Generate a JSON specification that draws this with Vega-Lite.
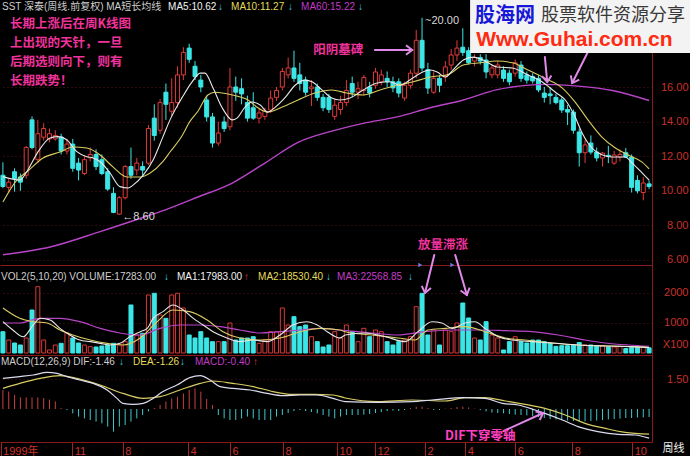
{
  "$schema": "https://vega.github.io/schema/vega-lite/v6.json",
  "background": "#000000",
  "padding": 0,
  "spacing": 0,
  "bounds": "flush",
  "config": {"view": {"stroke": null}, "font": "Liberation Sans"},
  "datasets": {
    "k": [
      {"i":0,"o":10.9,"h":11.65,"l":10.15,"c":10.25,"v":710,"m":0.95},
      {"i":1,"o":10.2,"h":10.7,"l":9.9,"c":10.5,"v":433,"m":0.87},
      {"i":2,"o":11.1,"h":11.3,"l":9.95,"c":10.7,"v":333,"m":0.7},
      {"i":3,"o":10.8,"h":11.0,"l":10.0,"c":10.5,"v":267,"m":0.58},
      {"i":4,"o":10.9,"h":12.6,"l":10.7,"c":12.5,"v":500,"m":0.58},
      {"i":5,"o":14.1,"h":14.3,"l":12.4,"c":12.5,"v":1433,"m":0.58},
      {"i":6,"o":11.8,"h":14.1,"l":11.6,"c":13.3,"v":2210,"m":0.58},
      {"i":7,"o":13.1,"h":13.9,"l":12.9,"c":13.6,"v":433,"m":0.55},
      {"i":8,"o":13.0,"h":13.6,"l":12.8,"c":13.3,"v":100,"m":0.47},
      {"i":9,"o":13.0,"h":13.5,"l":12.9,"c":13.2,"v":267,"m":0.38},
      {"i":10,"o":13.1,"h":13.3,"l":12.1,"c":12.3,"v":322,"m":0.05},
      {"i":11,"o":12.3,"h":13.0,"l":12.1,"c":12.7,"v":667,"m":-0.05},
      {"i":12,"o":12.7,"h":13.0,"l":11.1,"c":11.3,"v":500,"m":-0.22},
      {"i":13,"o":11.6,"h":11.9,"l":10.6,"c":11.2,"v":333,"m":-0.38},
      {"i":14,"o":11.0,"h":12.0,"l":10.9,"c":11.8,"v":267,"m":-0.47},
      {"i":15,"o":11.9,"h":12.5,"l":11.7,"c":12.1,"v":211,"m":-0.55},
      {"i":16,"o":12.1,"h":12.4,"l":11.2,"c":11.4,"v":200,"m":-0.63},
      {"i":17,"o":11.8,"h":12.1,"l":10.9,"c":11.0,"v":233,"m":-0.72},
      {"i":18,"o":11.1,"h":11.3,"l":10.0,"c":10.1,"v":267,"m":-0.88},
      {"i":19,"o":9.85,"h":10.2,"l":8.7,"c":8.75,"v":322,"m":-1.13},
      {"i":20,"o":8.65,"h":9.7,"l":8.6,"c":9.6,"v":267,"m":-0.88},
      {"i":21,"o":9.6,"h":11.5,"l":9.5,"c":11.4,"v":378,"m":-0.8},
      {"i":22,"o":11.4,"h":12.5,"l":10.7,"c":10.9,"v":1600,"m":-0.63},
      {"i":23,"o":11.2,"h":11.9,"l":10.9,"c":11.6,"v":600,"m":-0.47},
      {"i":24,"o":11.4,"h":11.7,"l":10.8,"c":11.2,"v":656,"m":-0.3},
      {"i":25,"o":11.6,"h":13.8,"l":11.5,"c":13.6,"v":1933,"m":-0.12},
      {"i":26,"o":14.2,"h":15.0,"l":12.9,"c":13.2,"v":1990,"m":0.05},
      {"i":27,"o":13.5,"h":15.3,"l":13.3,"c":15.1,"v":1267,"m":0.2},
      {"i":28,"o":15.7,"h":16.2,"l":14.1,"c":15.0,"v":1156,"m":0.37},
      {"i":29,"o":14.6,"h":16.5,"l":14.3,"c":15.1,"v":1933,"m":0.53},
      {"i":30,"o":15.1,"h":17.2,"l":14.8,"c":16.7,"v":1990,"m":0.62},
      {"i":31,"o":16.7,"h":18.3,"l":16.4,"c":18.0,"v":1500,"m":0.78},
      {"i":32,"o":18.25,"h":18.5,"l":17.4,"c":17.6,"v":600,"m":0.95},
      {"i":33,"o":17.2,"h":17.5,"l":16.4,"c":16.6,"v":500,"m":1.03},
      {"i":34,"o":16.4,"h":16.7,"l":15.7,"c":16.0,"v":711,"m":0.87},
      {"i":35,"o":15.25,"h":15.5,"l":14.0,"c":14.27,"v":500,"m":0.5},
      {"i":36,"o":14.27,"h":14.5,"l":12.5,"c":12.76,"v":378,"m":0.2},
      {"i":37,"o":12.76,"h":14.0,"l":12.6,"c":13.34,"v":378,"m":-0.3},
      {"i":38,"o":13.98,"h":14.3,"l":13.4,"c":13.6,"v":378,"m":-0.47},
      {"i":39,"o":13.7,"h":17.1,"l":13.5,"c":16.0,"v":1000,"m":-0.55},
      {"i":40,"o":16.0,"h":16.6,"l":15.2,"c":15.7,"v":433,"m":-0.55},
      {"i":41,"o":15.9,"h":16.5,"l":15.0,"c":15.6,"v":500,"m":-0.47},
      {"i":42,"o":15.1,"h":15.5,"l":14.0,"c":14.2,"v":500,"m":-0.38},
      {"i":43,"o":14.8,"h":15.7,"l":14.1,"c":14.2,"v":544,"m":-0.47},
      {"i":44,"o":14.2,"h":14.8,"l":13.9,"c":14.5,"v":322,"m":-0.55},
      {"i":45,"o":14.3,"h":14.8,"l":14.1,"c":14.6,"v":433,"m":-0.55},
      {"i":46,"o":14.67,"h":15.8,"l":14.5,"c":15.36,"v":711,"m":-0.55},
      {"i":47,"o":15.4,"h":16.0,"l":15.2,"c":15.8,"v":711,"m":-0.38},
      {"i":48,"o":16.0,"h":17.1,"l":15.8,"c":16.9,"v":1500,"m":-0.3},
      {"i":49,"o":16.7,"h":17.7,"l":16.5,"c":17.1,"v":933,"m":-0.2},
      {"i":50,"o":17.1,"h":18.1,"l":16.3,"c":16.5,"v":1211,"m":-0.1},
      {"i":51,"o":16.7,"h":17.4,"l":15.8,"c":16.2,"v":878,"m":-0.05},
      {"i":52,"o":16.4,"h":16.6,"l":15.5,"c":15.7,"v":933,"m":-0.1},
      {"i":53,"o":15.9,"h":16.4,"l":14.9,"c":16.0,"v":544,"m":-0.15},
      {"i":54,"o":16.0,"h":16.2,"l":15.2,"c":15.4,"v":378,"m":-0.22},
      {"i":55,"o":15.4,"h":15.6,"l":14.6,"c":14.8,"v":200,"m":-0.3},
      {"i":56,"o":15.4,"h":15.6,"l":14.5,"c":14.7,"v":267,"m":-0.38},
      {"i":57,"o":14.3,"h":15.35,"l":14.1,"c":14.95,"v":711,"m":-0.47},
      {"i":58,"o":14.7,"h":15.5,"l":14.4,"c":15.1,"v":500,"m":-0.38},
      {"i":59,"o":15.1,"h":16.4,"l":14.9,"c":15.8,"v":933,"m":-0.3},
      {"i":60,"o":16.2,"h":16.6,"l":15.4,"c":15.7,"v":711,"m":-0.3},
      {"i":61,"o":15.7,"h":16.3,"l":15.3,"c":15.9,"v":378,"m":-0.3},
      {"i":62,"o":15.8,"h":16.7,"l":15.5,"c":16.55,"v":822,"m":-0.28},
      {"i":63,"o":16.0,"h":16.3,"l":15.4,"c":15.65,"v":544,"m":-0.25},
      {"i":64,"o":16.1,"h":17.1,"l":15.9,"c":16.87,"v":767,"m":-0.2},
      {"i":65,"o":16.3,"h":17.0,"l":16.1,"c":16.7,"v":711,"m":-0.15},
      {"i":66,"o":16.5,"h":16.9,"l":16.0,"c":16.3,"v":378,"m":-0.1},
      {"i":67,"o":16.3,"h":16.6,"l":15.7,"c":15.95,"v":267,"m":-0.08},
      {"i":68,"o":16.3,"h":16.5,"l":15.4,"c":15.65,"v":378,"m":-0.1},
      {"i":69,"o":15.36,"h":16.3,"l":15.2,"c":16.1,"v":433,"m":-0.05},
      {"i":70,"o":16.1,"h":17.0,"l":15.9,"c":16.8,"v":544,"m":0.05},
      {"i":71,"o":16.8,"h":19.3,"l":16.5,"c":18.7,"v":1544,"m":0.12},
      {"i":72,"o":18.7,"h":20.0,"l":16.9,"c":17.1,"v":1989,"m":0.12},
      {"i":73,"o":17.0,"h":17.4,"l":15.6,"c":15.94,"v":600,"m":0.05},
      {"i":74,"o":15.7,"h":16.9,"l":15.6,"c":16.5,"v":767,"m":-0.05},
      {"i":75,"o":16.5,"h":16.7,"l":15.7,"c":16.1,"v":267,"m":-0.05},
      {"i":76,"o":16.58,"h":17.5,"l":16.3,"c":17.16,"v":767,"m":0.02},
      {"i":77,"o":17.27,"h":18.2,"l":17.0,"c":17.85,"v":711,"m":0.05},
      {"i":78,"o":17.85,"h":18.7,"l":17.5,"c":18.25,"v":1000,"m":0.1},
      {"i":79,"o":18.3,"h":19.4,"l":17.8,"c":18.0,"v":1667,"m":0.12},
      {"i":80,"o":18.1,"h":18.3,"l":17.3,"c":17.4,"v":1167,"m":0.08},
      {"i":81,"o":17.5,"h":17.9,"l":17.2,"c":17.7,"v":500,"m":0.02},
      {"i":82,"o":17.7,"h":17.9,"l":17.3,"c":17.5,"v":433,"m":-0.05},
      {"i":83,"o":17.56,"h":17.9,"l":16.5,"c":16.87,"v":1044,"m":-0.12},
      {"i":84,"o":16.7,"h":17.3,"l":16.5,"c":17.1,"v":600,"m":-0.18},
      {"i":85,"o":16.7,"h":17.5,"l":16.5,"c":17.27,"v":500,"m":-0.2},
      {"i":86,"o":16.98,"h":17.2,"l":16.3,"c":16.5,"v":100,"m":-0.22},
      {"i":87,"o":16.8,"h":17.0,"l":16.1,"c":16.3,"v":378,"m":-0.25},
      {"i":88,"o":16.8,"h":17.6,"l":16.6,"c":17.4,"v":544,"m":-0.28},
      {"i":89,"o":17.27,"h":17.5,"l":16.3,"c":16.5,"v":378,"m":-0.3},
      {"i":90,"o":16.7,"h":16.9,"l":16.2,"c":16.4,"v":333,"m":-0.32},
      {"i":91,"o":16.6,"h":16.8,"l":16.2,"c":16.35,"v":433,"m":-0.36},
      {"i":92,"o":16.5,"h":16.7,"l":15.7,"c":15.83,"v":433,"m":-0.4},
      {"i":93,"o":15.65,"h":16.0,"l":15.1,"c":15.4,"v":378,"m":-0.45},
      {"i":94,"o":15.6,"h":16.0,"l":15.0,"c":15.5,"v":333,"m":-0.5},
      {"i":95,"o":15.4,"h":15.6,"l":15.0,"c":15.1,"v":222,"m":-0.52},
      {"i":96,"o":15.25,"h":15.4,"l":14.5,"c":14.67,"v":244,"m":-0.55},
      {"i":97,"o":14.7,"h":14.96,"l":13.8,"c":14.55,"v":244,"m":-0.58},
      {"i":98,"o":14.55,"h":14.7,"l":13.3,"c":13.5,"v":267,"m":-0.6},
      {"i":99,"o":13.4,"h":13.6,"l":11.4,"c":12.2,"v":350,"m":-0.62},
      {"i":100,"o":12.2,"h":12.94,"l":11.6,"c":12.65,"v":267,"m":-0.62},
      {"i":101,"o":12.76,"h":13.2,"l":12.1,"c":12.24,"v":267,"m":-0.6},
      {"i":102,"o":12.24,"h":12.5,"l":11.7,"c":11.9,"v":222,"m":-0.58},
      {"i":103,"o":11.9,"h":12.24,"l":11.4,"c":12.18,"v":244,"m":-0.55},
      {"i":104,"o":12.05,"h":12.6,"l":11.6,"c":12.0,"v":200,"m":-0.52},
      {"i":105,"o":11.6,"h":12.3,"l":11.5,"c":12.07,"v":200,"m":-0.5},
      {"i":106,"o":11.95,"h":12.4,"l":11.7,"c":12.1,"v":222,"m":-0.48},
      {"i":107,"o":12.2,"h":12.47,"l":11.9,"c":11.95,"v":150,"m":-0.45},
      {"i":108,"o":11.95,"h":12.1,"l":9.9,"c":10.2,"v":180,"m":-0.45},
      {"i":109,"o":10.6,"h":10.9,"l":9.85,"c":10.0,"v":200,"m":-0.43},
      {"i":110,"o":9.9,"h":10.8,"l":9.45,"c":10.45,"v":195,"m":-0.42},
      {"i":111,"o":10.4,"h":10.6,"l":10.1,"c":10.25,"v":172.83,"m":-0.4}
    ],
    "ma5": [{"i":0,"v":10.82},{"i":2.9,"v":10.62},{"i":4.1,"v":11.1},{"i":5.9,"v":12.18},{"i":8.1,"v":13.05},{"i":9.5,"v":13.13},{"i":11,"v":12.94},{"i":12.7,"v":12.26},{"i":14.4,"v":11.97},{"i":15.5,"v":11.9},{"i":16.7,"v":11.68},{"i":18.4,"v":11.03},{"i":20.1,"v":10.24},{"i":21.5,"v":10.16},{"i":22.4,"v":10.34},{"i":24.1,"v":10.91},{"i":25.8,"v":11.78},{"i":27.5,"v":13.13},{"i":28.7,"v":14.1},{"i":30.8,"v":15.4},{"i":32.5,"v":16.3},{"i":33.9,"v":16.8},{"i":34.7,"v":16.8},{"i":36.1,"v":15.94},{"i":37.6,"v":14.84},{"i":39.4,"v":14.1},{"i":40.2,"v":14.2},{"i":41.6,"v":14.84},{"i":42.8,"v":15.13},{"i":44.2,"v":14.96},{"i":45.5,"v":14.55},{"i":46.8,"v":14.84},{"i":48.5,"v":15.4},{"i":50.2,"v":16.1},{"i":51.9,"v":16.4},{"i":53.1,"v":16.3},{"i":54.8,"v":15.83},{"i":56.5,"v":15.36},{"i":57.9,"v":15.25},{"i":59.6,"v":15.36},{"i":61.9,"v":15.83},{"i":64.3,"v":16.23},{"i":66.5,"v":16.3},{"i":68.2,"v":16.1},{"i":69.9,"v":16.4},{"i":71.7,"v":16.8},{"i":73.4,"v":16.98},{"i":74.6,"v":16.87},{"i":76,"v":16.58},{"i":77.3,"v":16.98},{"i":79.1,"v":17.56},{"i":80.8,"v":17.73},{"i":82.5,"v":17.56},{"i":84.9,"v":17.16},{"i":87.5,"v":17.1},{"i":90.2,"v":16.7},{"i":92.6,"v":16.3},{"i":94.9,"v":15.7},{"i":96.6,"v":15.25},{"i":98.3,"v":14.27},{"i":99.5,"v":13.34},{"i":100.5,"v":12.76},{"i":102.3,"v":12.18},{"i":104.7,"v":11.95},{"i":106.9,"v":11.95},{"i":108.1,"v":11.6},{"i":109.8,"v":11.03},{"i":111,"v":10.62}],
    "ma10": [{"i":0,"v":9.35},{"i":2.4,"v":10.62},{"i":4.1,"v":11.09},{"i":6.9,"v":11.9},{"i":9.8,"v":12.24},{"i":12,"v":12.53},{"i":14.4,"v":12.47},{"i":16.7,"v":12.07},{"i":18.9,"v":11.38},{"i":21.3,"v":10.8},{"i":23.6,"v":10.8},{"i":25.3,"v":11.03},{"i":27.5,"v":11.7},{"i":28.7,"v":12.24},{"i":30.8,"v":13.2},{"i":32.1,"v":14.0},{"i":33.5,"v":14.6},{"i":35.2,"v":15.54},{"i":36.4,"v":15.7},{"i":39.4,"v":15.54},{"i":42.1,"v":15.25},{"i":43.8,"v":14.8},{"i":45.5,"v":14.55},{"i":48,"v":14.84},{"i":50.7,"v":15.25},{"i":53.6,"v":15.65},{"i":56.5,"v":15.83},{"i":59.1,"v":15.65},{"i":61.9,"v":15.54},{"i":64.8,"v":15.83},{"i":67.7,"v":16.1},{"i":70.5,"v":16.3},{"i":73.4,"v":16.58},{"i":76.3,"v":16.7},{"i":79.1,"v":17.27},{"i":82,"v":17.4},{"i":84.9,"v":17.5},{"i":87.5,"v":17.4},{"i":90.2,"v":16.98},{"i":93.1,"v":16.5},{"i":96.1,"v":15.94},{"i":98.3,"v":15.13},{"i":100.5,"v":14.1},{"i":102.9,"v":13.1},{"i":105.2,"v":12.47},{"i":107.4,"v":12.07},{"i":109.8,"v":11.66},{"i":111,"v":11.27}],
    "ma60": [{"i":0,"v":6.3},{"i":8.1,"v":6.75},{"i":16.7,"v":7.64},{"i":25.3,"v":8.6},{"i":27.9,"v":8.9},{"i":33.5,"v":9.64},{"i":39.4,"v":10.45},{"i":45,"v":11.6},{"i":50.7,"v":12.8},{"i":56.5,"v":13.45},{"i":61.9,"v":13.9},{"i":67.7,"v":14.27},{"i":73.4,"v":14.8},{"i":79.1,"v":15.25},{"i":84.9,"v":15.85},{"i":87.5,"v":16.0},{"i":93.1,"v":16.15},{"i":98.8,"v":16.05},{"i":104.7,"v":15.8},{"i":111,"v":15.22}],
    "vma5": [{"i":0,"v":1044},{"i":1.7,"v":767},{"i":3.5,"v":544},{"i":5.2,"v":933},{"i":6.4,"v":1156},{"i":8.1,"v":1100},{"i":9.8,"v":822},{"i":11.5,"v":600},{"i":13.2,"v":433},{"i":15,"v":378},{"i":16.7,"v":322},{"i":18.4,"v":267},{"i":20.1,"v":322},{"i":21.8,"v":544},{"i":23.6,"v":711},{"i":24.8,"v":822},{"i":25.8,"v":1156},{"i":27.5,"v":1378},{"i":29.2,"v":1600},{"i":31,"v":1433},{"i":32.7,"v":1156},{"i":34.4,"v":933},{"i":36.1,"v":711},{"i":38.5,"v":500},{"i":40.7,"v":378},{"i":43,"v":433},{"i":45.4,"v":378},{"i":47.6,"v":600},{"i":49.8,"v":933},{"i":52.2,"v":1044},{"i":54,"v":933},{"i":55.7,"v":711},{"i":57.9,"v":500},{"i":58.8,"v":600},{"i":62.2,"v":667},{"i":65.7,"v":544},{"i":69.1,"v":378},{"i":71.3,"v":711},{"i":73.7,"v":1044},{"i":75.4,"v":1000},{"i":77.2,"v":822},{"i":79.4,"v":1000},{"i":81.1,"v":1044},{"i":82.8,"v":822},{"i":85.1,"v":544},{"i":87.5,"v":433},{"i":90.9,"v":378},{"i":94.3,"v":333},{"i":98.8,"v":267},{"i":103.5,"v":233},{"i":108.1,"v":211},{"i":111,"v":179.83}],
    "vma10": [{"i":0,"v":1500},{"i":2.9,"v":1156},{"i":5.2,"v":1044},{"i":7.6,"v":1000},{"i":9.8,"v":767},{"i":12,"v":600},{"i":15,"v":433},{"i":17.9,"v":322},{"i":20.6,"v":267},{"i":23.6,"v":500},{"i":26.5,"v":1044},{"i":29.2,"v":1433},{"i":32.1,"v":1378},{"i":35.1,"v":1100},{"i":37.8,"v":711},{"i":40.7,"v":500},{"i":44.2,"v":433},{"i":47.6,"v":500},{"i":51.1,"v":711},{"i":54.5,"v":822},{"i":57.9,"v":767},{"i":58.8,"v":711},{"i":63.4,"v":600},{"i":67.9,"v":500},{"i":70.8,"v":433},{"i":73,"v":767},{"i":76,"v":822},{"i":79.4,"v":878},{"i":82.8,"v":711},{"i":86.3,"v":500},{"i":89.7,"v":433},{"i":94.3,"v":333},{"i":98.8,"v":267},{"i":104.7,"v":233},{"i":111,"v":185.3}],
    "vma20": [{"i":0,"v":1000},{"i":2.9,"v":1000},{"i":6.4,"v":1156},{"i":9.8,"v":1156},{"i":13.2,"v":1044},{"i":16.7,"v":822},{"i":20.1,"v":667},{"i":23.6,"v":600},{"i":27,"v":822},{"i":30.4,"v":933},{"i":33.9,"v":933},{"i":37.3,"v":878},{"i":40.7,"v":767},{"i":44.2,"v":667},{"i":47.6,"v":711},{"i":51.1,"v":767},{"i":54.5,"v":822},{"i":57.9,"v":767},{"i":63.4,"v":667},{"i":67.9,"v":600},{"i":72.5,"v":711},{"i":77.2,"v":767},{"i":81.6,"v":767},{"i":86.3,"v":744},{"i":90.9,"v":711},{"i":95.4,"v":600},{"i":100,"v":433},{"i":103.5,"v":333},{"i":107.4,"v":267},{"i":111,"v":225.7}],
    "dif": [{"i":0,"v":1.53},{"i":2.9,"v":1.62},{"i":5.2,"v":1.7},{"i":7.6,"v":1.83},{"i":9.3,"v":1.78},{"i":11,"v":1.62},{"i":13.2,"v":1.45},{"i":15.5,"v":1.28},{"i":17.9,"v":0.95},{"i":19.6,"v":0.53},{"i":20.6,"v":0.28},{"i":22.4,"v":0.23},{"i":24.1,"v":0.28},{"i":25.8,"v":0.53},{"i":27.5,"v":0.87},{"i":29.9,"v":1.2},{"i":32.1,"v":1.57},{"i":33.9,"v":1.67},{"i":35.6,"v":1.45},{"i":37.3,"v":1.12},{"i":39.5,"v":1.03},{"i":42.5,"v":0.95},{"i":45.4,"v":0.78},{"i":48.1,"v":0.67},{"i":51.1,"v":0.7},{"i":54,"v":0.7},{"i":56.7,"v":0.53},{"i":58.8,"v":0.37},{"i":64.4,"v":0.33},{"i":70.3,"v":0.37},{"i":73.7,"v":0.45},{"i":79.4,"v":0.57},{"i":82.8,"v":0.53},{"i":85.8,"v":0.28},{"i":88.5,"v":0.2},{"i":91.4,"v":-0.05},{"i":93.1,"v":-0.22},{"i":96.1,"v":-0.55},{"i":98.8,"v":-0.88},{"i":102.2,"v":-1.13},{"i":105.7,"v":-1.27},{"i":108.6,"v":-1.3},{"i":111,"v":-1.46}],
    "dea": [{"i":0,"v":1.03},{"i":2.9,"v":1.28},{"i":6.4,"v":1.53},{"i":9.8,"v":1.67},{"i":12.7,"v":1.53},{"i":16.7,"v":1.2},{"i":20.6,"v":0.78},{"i":24.1,"v":0.53},{"i":27,"v":0.62},{"i":30.4,"v":0.95},{"i":33.9,"v":1.28},{"i":36.1,"v":1.4},{"i":39.5,"v":1.28},{"i":43,"v":1.12},{"i":46.4,"v":0.87},{"i":49.8,"v":0.73},{"i":53.3,"v":0.73},{"i":56.7,"v":0.7},{"i":58.8,"v":0.55},{"i":64.4,"v":0.37},{"i":70.3,"v":0.45},{"i":76,"v":0.4},{"i":79.4,"v":0.57},{"i":82.8,"v":0.57},{"i":86.3,"v":0.4},{"i":89.7,"v":0.23},{"i":93.1,"v":0.03},{"i":96.6,"v":-0.3},{"i":100,"v":-0.72},{"i":103.5,"v":-0.97},{"i":106.9,"v":-1.17},{"i":111,"v":-1.26}],
    "arrows": [
      {"n":"W","x1":63.9,"y1":18.14,"x2":70.3,"y2":18.14},
      {"n":"A","x1":93.1,"y1":17.73,"x2":93.5,"y2":16.29},
      {"n":"B","x1":100.4,"y1":17.97,"x2":97.8,"y2":16.23}
    ],
    "volArrows": [
      {"n":"C","x1":74.1,"y1":3267,"x2":72.5,"y2":2000},
      {"n":"D","x1":77.7,"y1":3267,"x2":79.7,"y2":1933}
    ],
    "macdArrows": [
      {"n":"E","x1":86.0,"y1":-1.1,"x2":92.8,"y2":-0.2}
    ]
  },
  "vconcat": [
    {
      "width": 652,
      "height": 265,
      "layer": [
        {
          "data": {"name": "k"},
          "mark": {"type": "rule", "strokeWidth": 1},
          "encoding": {
            "x": {"field": "i", "type": "quantitative", "scale": {"domain": [-0.5, 111.5], "nice": false, "zero": false, "padding": 0},
                  "axis": {"orient": "bottom", "labels": false, "ticks": false, "grid": false, "domain": true, "domainColor": "#8c1a1a", "title": null}},
            "y": {"field": "l", "type": "quantitative", "scale": {"domain": [5.71, 21.03], "nice": false, "zero": false, "padding": 0},
                  "axis": {"orient": "right", "values": [6, 8, 10, 12, 14, 16], "format": ".2f", "grid": true, "gridColor": "#5c1414", "gridDash": [1, 3], "ticks": false, "tickSize": 0, "domain": true, "domainColor": "#8c1a1a", "labelAlign": "right", "labelPadding": 36, "labelColor": "#c8302c", "labelFont": "Liberation Sans", "labelFontSize": 11, "title": null}},
            "y2": {"field": "h"},
            "color": {"condition": {"test": "datum.c >= datum.o", "value": "#e03a3a"}, "value": "#3ce6e6"}
          }
        },
        {
          "data": {"name": "k"},
          "mark": {"type": "bar", "width": 4, "strokeWidth": 1},
          "encoding": {
            "x": {"field": "i", "type": "quantitative", "scale": {"domain": [-0.5, 111.5], "nice": false, "zero": false, "padding": 0}, "title": null},
            "y": {"field": "o", "type": "quantitative", "scale": {"domain": [5.71, 21.03], "nice": false, "zero": false, "padding": 0}, "title": null},
            "y2": {"field": "c"},
            "fill": {"condition": {"test": "datum.c >= datum.o", "value": "#000000"}, "value": "#3ce6e6"},
            "stroke": {"condition": {"test": "datum.c >= datum.o", "value": "#e03a3a"}, "value": "#3ce6e6"}
          }
        },
        {
          "data": {"name": "ma60"},
          "mark": {"type": "line", "color": "#b844c8", "strokeWidth": 1.4, "interpolate": "monotone"},
          "encoding": {
            "x": {"field": "i", "type": "quantitative", "scale": {"domain": [-0.5, 111.5], "nice": false, "zero": false, "padding": 0}, "title": null},
            "y": {"field": "v", "type": "quantitative", "scale": {"domain": [5.71, 21.03], "nice": false, "zero": false, "padding": 0}, "title": null}
          }
        },
        {
          "data": {"name": "ma10"},
          "mark": {"type": "line", "color": "#d8cc62", "strokeWidth": 1.1, "interpolate": "monotone"},
          "encoding": {
            "x": {"field": "i", "type": "quantitative", "scale": {"domain": [-0.5, 111.5], "nice": false, "zero": false, "padding": 0}, "title": null},
            "y": {"field": "v", "type": "quantitative", "scale": {"domain": [5.71, 21.03], "nice": false, "zero": false, "padding": 0}, "title": null}
          }
        },
        {
          "data": {"name": "ma5"},
          "mark": {"type": "line", "color": "#e8e8e8", "strokeWidth": 1.1, "interpolate": "monotone"},
          "encoding": {
            "x": {"field": "i", "type": "quantitative", "scale": {"domain": [-0.5, 111.5], "nice": false, "zero": false, "padding": 0}, "title": null},
            "y": {"field": "v", "type": "quantitative", "scale": {"domain": [5.71, 21.03], "nice": false, "zero": false, "padding": 0}, "title": null}
          }
        },
        {
          "data": {"values": [
            {"i": 1.22, "p": 19.64, "t": "长期上涨后在周K线图"},
            {"i": 1.22, "p": 18.54, "t": "上出现的天针，一旦"},
            {"i": 1.22, "p": 17.44, "t": "后期选则向下，则有"},
            {"i": 1.22, "p": 16.34, "t": "长期跌势！"},
            {"i": 53.3, "p": 18.14, "t": "阳阴墓碑"},
            {"i": 71.3, "p": 6.87, "t": "放量滞涨"}
          ]},
          "mark": {"type": "text", "align": "left", "baseline": "middle", "font": "Noto Sans CJK SC", "fontWeight": "bold", "fontSize": 12.5, "color": "#f0329c"},
          "encoding": {
            "x": {"field": "i", "type": "quantitative", "scale": {"domain": [-0.5, 111.5], "nice": false, "zero": false, "padding": 0}, "title": null},
            "y": {"field": "p", "type": "quantitative", "scale": {"domain": [5.71, 21.03], "nice": false, "zero": false, "padding": 0}, "title": null},
            "text": {"field": "t"}
          }
        },
        {
          "data": {"values": [
            {"i": 72, "p": 19.8, "t": "~20.00"},
            {"i": 20, "p": 8.49, "t": "←8.60"}
          ]},
          "mark": {"type": "text", "align": "left", "baseline": "middle", "dx": 3, "font": "Liberation Sans", "fontSize": 11, "color": "#d8d8d8"},
          "encoding": {
            "x": {"field": "i", "type": "quantitative", "scale": {"domain": [-0.5, 111.5], "nice": false, "zero": false, "padding": 0}, "title": null},
            "y": {"field": "p", "type": "quantitative", "scale": {"domain": [5.71, 21.03], "nice": false, "zero": false, "padding": 0}, "title": null},
            "text": {"field": "t"}
          }
        },
        {
          "data": {"name": "arrows"},
          "mark": {"type": "rule", "color": "#e08ae8", "strokeWidth": 2, "strokeCap": "round"},
          "encoding": {
            "x": {"field": "x1", "type": "quantitative", "scale": {"domain": [-0.5, 111.5], "nice": false, "zero": false, "padding": 0}, "title": null},
            "y": {"field": "y1", "type": "quantitative", "scale": {"domain": [5.71, 21.03], "nice": false, "zero": false, "padding": 0}, "title": null},
            "x2": {"field": "x2"},
            "y2": {"field": "y2"}
          }
        },
        {
          "data": {"name": "arrows"},
          "transform": [{"filter": "datum.n == 'W'"}],
          "mark": {"type": "point", "shape": "M-1,1.3L0,0L1,1.3", "filled": false, "stroke": "#e08ae8", "strokeWidth": 2, "size": 90, "angle": 90, "opacity": 1},
          "encoding": {
            "x": {"field": "x2", "type": "quantitative", "scale": {"domain": [-0.5, 111.5], "nice": false, "zero": false, "padding": 0}, "title": null},
            "y": {"field": "y2", "type": "quantitative", "scale": {"domain": [5.71, 21.03], "nice": false, "zero": false, "padding": 0}, "title": null}
          }
        },
        {
          "data": {"name": "arrows"},
          "transform": [{"filter": "datum.n == 'A'"}],
          "mark": {"type": "point", "shape": "M-1,1.3L0,0L1,1.3", "filled": false, "stroke": "#e08ae8", "strokeWidth": 2, "size": 90, "angle": 175, "opacity": 1},
          "encoding": {
            "x": {"field": "x2", "type": "quantitative", "scale": {"domain": [-0.5, 111.5], "nice": false, "zero": false, "padding": 0}, "title": null},
            "y": {"field": "y2", "type": "quantitative", "scale": {"domain": [5.71, 21.03], "nice": false, "zero": false, "padding": 0}, "title": null}
          }
        },
        {
          "data": {"name": "arrows"},
          "transform": [{"filter": "datum.n == 'B'"}],
          "mark": {"type": "point", "shape": "M-1,1.3L0,0L1,1.3", "filled": false, "stroke": "#e08ae8", "strokeWidth": 2, "size": 90, "angle": 207, "opacity": 1},
          "encoding": {
            "x": {"field": "x2", "type": "quantitative", "scale": {"domain": [-0.5, 111.5], "nice": false, "zero": false, "padding": 0}, "title": null},
            "y": {"field": "y2", "type": "quantitative", "scale": {"domain": [5.71, 21.03], "nice": false, "zero": false, "padding": 0}, "title": null}
          }
        },
        {
          "data": {"values": [{"a": 80.25, "b": 118.2, "t": 21.03, "u": 17.97}]},
          "mark": {"type": "rect", "color": "#f3f3f3"},
          "encoding": {
            "x": {"field": "a", "type": "quantitative", "scale": {"domain": [-0.5, 111.5], "nice": false, "zero": false, "padding": 0}, "title": null},
            "x2": {"field": "b"},
            "y": {"field": "t", "type": "quantitative", "scale": {"domain": [5.71, 21.03], "nice": false, "zero": false, "padding": 0}, "title": null},
            "y2": {"field": "u"}
          }
        },
        {
          "data": {"values": [{"i": 81.1, "p": 20.1, "t": "股海网"}]},
          "mark": {"type": "text", "align": "left", "baseline": "middle", "font": "Noto Sans CJK SC", "fontWeight": "bold", "fontSize": 20, "color": "#1818d8"},
          "encoding": {
            "x": {"field": "i", "type": "quantitative", "scale": {"domain": [-0.5, 111.5], "nice": false, "zero": false, "padding": 0}, "title": null},
            "y": {"field": "p", "type": "quantitative", "scale": {"domain": [5.71, 21.03], "nice": false, "zero": false, "padding": 0}, "title": null},
            "text": {"field": "t"}
          }
        },
        {
          "data": {"values": [{"i": 92.45, "p": 20.1, "t": "股票软件资源分享"}]},
          "mark": {"type": "text", "align": "left", "baseline": "middle", "font": "Noto Sans CJK SC", "fontSize": 18, "color": "#383838"},
          "encoding": {
            "x": {"field": "i", "type": "quantitative", "scale": {"domain": [-0.5, 111.5], "nice": false, "zero": false, "padding": 0}, "title": null},
            "y": {"field": "p", "type": "quantitative", "scale": {"domain": [5.71, 21.03], "nice": false, "zero": false, "padding": 0}, "title": null},
            "text": {"field": "t"}
          }
        },
        {
          "data": {"values": [{"i": 81.3, "p": 18.72, "t": "Www.Guhai.com.cn"}]},
          "mark": {"type": "text", "align": "left", "baseline": "middle", "font": "Liberation Sans", "fontWeight": "bold", "fontSize": 21, "color": "#ff2a10"},
          "encoding": {
            "x": {"field": "i", "type": "quantitative", "scale": {"domain": [-0.5, 111.5], "nice": false, "zero": false, "padding": 0}, "title": null},
            "y": {"field": "p", "type": "quantitative", "scale": {"domain": [5.71, 21.03], "nice": false, "zero": false, "padding": 0}, "title": null},
            "text": {"field": "t"}
          }
        },
        {
          "data": {"values": [
            {"i": -0.16, "t": "SST 深泰(周线.前复权) MA短长均线", "k": "g"},
            {"i": 28.37, "t": "MA5:10.62", "k": "w"},
            {"i": 36.96, "t": "↓", "k": "c"},
            {"i": 39.19, "t": "MA10:11.27", "k": "y"},
            {"i": 48.98, "t": "↓", "k": "c"},
            {"i": 51.22, "t": "MA60:15.22", "k": "p"},
            {"i": 61.01, "t": "↓", "k": "c"}
          ]},
          "mark": {"type": "text", "align": "left", "baseline": "middle", "font": "Liberation Sans, Noto Sans CJK SC", "fontSize": 10},
          "encoding": {
            "x": {"field": "i", "type": "quantitative", "scale": {"domain": [-0.5, 111.5], "nice": false, "zero": false, "padding": 0}, "title": null},
            "y": {"datum": 20.62, "type": "quantitative", "scale": {"domain": [5.71, 21.03], "nice": false, "zero": false, "padding": 0}, "title": null},
            "text": {"field": "t"},
            "color": {"field": "k", "type": "nominal", "legend": null,
                      "scale": {"domain": ["g", "w", "y", "p", "c", "r"], "range": ["#cfcfcf", "#f2f2f2", "#e6dc5a", "#c23cc8", "#3cd8e0", "#e03c3c"]}}
          }
        }
      ]
    },
    {
      "width": 652,
      "height": 90,
      "layer": [
        {
          "data": {"name": "k"},
          "mark": {"type": "bar", "width": 4, "strokeWidth": 1},
          "encoding": {
            "x": {"field": "i", "type": "quantitative", "scale": {"domain": [-0.5, 111.5], "nice": false, "zero": false, "padding": 0},
                  "axis": {"orient": "bottom", "labels": false, "ticks": false, "grid": false, "domain": true, "domainColor": "#8c1a1a", "title": null}},
            "y": {"field": "v", "type": "quantitative", "scale": {"domain": [-66.7, 2933.3], "nice": false, "zero": false, "padding": 0},
                  "axis": {"orient": "right", "values": [266.7, 1000, 2000], "labelExpr": "datum.value < 500 ? 'X100' : format(datum.value, 'd')", "grid": true, "gridColor": "#5c1414", "gridDash": [1, 3], "gridOpacity": {"condition": {"test": "datum.value < 500", "value": 0}, "value": 1}, "ticks": false, "tickSize": 0, "domain": true, "domainColor": "#8c1a1a", "labelAlign": "right", "labelPadding": 36, "labelColor": "#c8302c", "labelFont": "Liberation Sans", "labelFontSize": 11, "title": null}},
            "y2": {"datum": 0},
            "fill": {"condition": {"test": "datum.c >= datum.o", "value": "#000000"}, "value": "#3ce6e6"},
            "stroke": {"condition": {"test": "datum.c >= datum.o", "value": "#d83838"}, "value": "#3ce6e6"}
          }
        },
        {
          "data": {"name": "vma20"},
          "mark": {"type": "line", "color": "#b844c8", "strokeWidth": 1.2, "interpolate": "monotone"},
          "encoding": {
            "x": {"field": "i", "type": "quantitative", "scale": {"domain": [-0.5, 111.5], "nice": false, "zero": false, "padding": 0}, "title": null},
            "y": {"field": "v", "type": "quantitative", "scale": {"domain": [-66.7, 2933.3], "nice": false, "zero": false, "padding": 0}, "title": null}
          }
        },
        {
          "data": {"name": "vma10"},
          "mark": {"type": "line", "color": "#d8cc62", "strokeWidth": 1.1, "interpolate": "monotone"},
          "encoding": {
            "x": {"field": "i", "type": "quantitative", "scale": {"domain": [-0.5, 111.5], "nice": false, "zero": false, "padding": 0}, "title": null},
            "y": {"field": "v", "type": "quantitative", "scale": {"domain": [-66.7, 2933.3], "nice": false, "zero": false, "padding": 0}, "title": null}
          }
        },
        {
          "data": {"name": "vma5"},
          "mark": {"type": "line", "color": "#e8e8e8", "strokeWidth": 1.1, "interpolate": "monotone"},
          "encoding": {
            "x": {"field": "i", "type": "quantitative", "scale": {"domain": [-0.5, 111.5], "nice": false, "zero": false, "padding": 0}, "title": null},
            "y": {"field": "v", "type": "quantitative", "scale": {"domain": [-66.7, 2933.3], "nice": false, "zero": false, "padding": 0}, "title": null}
          }
        },
        {
          "data": {"values": [{"i": 71.7}, {"i": 77.2}]},
          "mark": {"type": "point", "shape": "triangle-right", "filled": true, "color": "#6a78d8", "size": 22, "opacity": 1},
          "encoding": {
            "x": {"field": "i", "type": "quantitative", "scale": {"domain": [-0.5, 111.5], "nice": false, "zero": false, "padding": 0}, "title": null},
            "y": {"datum": 2933, "type": "quantitative", "scale": {"domain": [-66.7, 2933.3], "nice": false, "zero": false, "padding": 0}, "title": null}
          }
        },
        {
          "data": {"name": "volArrows"},
          "mark": {"type": "rule", "color": "#e08ae8", "strokeWidth": 2, "strokeCap": "round"},
          "encoding": {
            "x": {"field": "x1", "type": "quantitative", "scale": {"domain": [-0.5, 111.5], "nice": false, "zero": false, "padding": 0}, "title": null},
            "y": {"field": "y1", "type": "quantitative", "scale": {"domain": [-66.7, 2933.3], "nice": false, "zero": false, "padding": 0}, "title": null},
            "x2": {"field": "x2"},
            "y2": {"field": "y2"}
          }
        },
        {
          "data": {"name": "volArrows"},
          "transform": [{"filter": "datum.n == 'C'"}],
          "mark": {"type": "point", "shape": "M-1,1.3L0,0L1,1.3", "filled": false, "stroke": "#e08ae8", "strokeWidth": 2, "size": 90, "angle": 193, "opacity": 1},
          "encoding": {
            "x": {"field": "x2", "type": "quantitative", "scale": {"domain": [-0.5, 111.5], "nice": false, "zero": false, "padding": 0}, "title": null},
            "y": {"field": "y2", "type": "quantitative", "scale": {"domain": [-66.7, 2933.3], "nice": false, "zero": false, "padding": 0}, "title": null}
          }
        },
        {
          "data": {"name": "volArrows"},
          "transform": [{"filter": "datum.n == 'D'"}],
          "mark": {"type": "point", "shape": "M-1,1.3L0,0L1,1.3", "filled": false, "stroke": "#e08ae8", "strokeWidth": 2, "size": 90, "angle": 163, "opacity": 1},
          "encoding": {
            "x": {"field": "x2", "type": "quantitative", "scale": {"domain": [-0.5, 111.5], "nice": false, "zero": false, "padding": 0}, "title": null},
            "y": {"field": "y2", "type": "quantitative", "scale": {"domain": [-66.7, 2933.3], "nice": false, "zero": false, "padding": 0}, "title": null}
          }
        },
        {
          "data": {"values": [
            {"i": -0.33, "t": "VOL2(5,10,20) VOLUME:17283.00", "k": "g"},
            {"i": 27.68, "t": "↓", "k": "c"},
            {"i": 29.91, "t": "MA1:17983.00", "k": "w"},
            {"i": 41.42, "t": "↑", "k": "r"},
            {"i": 43.83, "t": "MA2:18530.40", "k": "y"},
            {"i": 55.51, "t": "↓", "k": "c"},
            {"i": 57.4, "t": "MA3:22568.85", "k": "p"},
            {"i": 69.6, "t": "↓", "k": "c"}
          ]},
          "mark": {"type": "text", "align": "left", "baseline": "middle", "font": "Liberation Sans", "fontSize": 10},
          "encoding": {
            "x": {"field": "i", "type": "quantitative", "scale": {"domain": [-0.5, 111.5], "nice": false, "zero": false, "padding": 0}, "title": null},
            "y": {"datum": 2533, "type": "quantitative", "scale": {"domain": [-66.7, 2933.3], "nice": false, "zero": false, "padding": 0}, "title": null},
            "text": {"field": "t"},
            "color": {"field": "k", "type": "nominal", "legend": null,
                      "scale": {"domain": ["g", "w", "y", "p", "c", "r"], "range": ["#cfcfcf", "#f2f2f2", "#e6dc5a", "#c23cc8", "#3cd8e0", "#e03c3c"]}}
          }
        }
      ]
    },
    {
      "width": 652,
      "height": 87,
      "layer": [
        {
          "data": {"name": "k"},
          "mark": {"type": "rule", "strokeWidth": 1},
          "encoding": {
            "x": {"field": "i", "type": "quantitative", "scale": {"domain": [-0.5, 111.5], "nice": false, "zero": false, "padding": 0},
                  "axis": {"orient": "bottom",
                           "values": [-0.4, 7.75, 11.9, 16.5, 20.6, 24.8, 31.8, 35.4, 39, 44.2, 48.1, 53.1, 57.4, 59.8, 63.9, 69.6, 72.5, 75.4, 79.4, 84.5, 88, 93.1, 97.8, 102.9, 108.1, 110.3],
                           "labelExpr": "['1999年','10','11','12','8','2','4','5','6','7','8','9','10','11','12','1','2','3','4','5','6','7','8','9','10','1'][indexof([-0.4,7.75,11.9,16.5,20.6,24.8,31.8,35.4,39,44.2,48.1,53.1,57.4,59.8,63.9,69.6,72.5,75.4,79.4,84.5,88,93.1,97.8,102.9,108.1,110.3], datum.value)]",
                           "labelAlign": "left", "labelBaseline": "top", "labelPadding": -11, "labelOffset": 2,
                           "labelColor": "#d0302c", "labelFont": "Liberation Sans, Noto Sans CJK SC", "labelFontSize": 11,
                           "labelOverlap": false, "labelFlush": false, "labelBound": false,
                           "ticks": true, "tickSize": 14, "tickColor": "#a02424",
                           "domain": true, "domainColor": "#8c1a1a", "grid": false, "title": null}},
            "y": {"field": "m", "type": "quantitative", "scale": {"domain": [-1.65, 2.7], "nice": false, "zero": false, "padding": 0},
                  "axis": {"orient": "right", "values": [1.5], "format": ".2f", "grid": true, "gridColor": "#4a1010", "gridDash": [1, 3], "ticks": false, "tickSize": 0, "domain": true, "domainColor": "#8c1a1a", "labelAlign": "right", "labelPadding": 36, "labelColor": "#c8302c", "labelFont": "Liberation Sans", "labelFontSize": 11, "title": null}},
            "y2": {"datum": 0},
            "color": {"condition": {"test": "datum.m >= 0", "value": "#c84040"}, "value": "#40c8cc"}
          }
        },
        {
          "data": {"name": "dea"},
          "mark": {"type": "line", "color": "#d8cc62", "strokeWidth": 1.2, "interpolate": "monotone"},
          "encoding": {
            "x": {"field": "i", "type": "quantitative", "scale": {"domain": [-0.5, 111.5], "nice": false, "zero": false, "padding": 0}, "title": null},
            "y": {"field": "v", "type": "quantitative", "scale": {"domain": [-1.65, 2.7], "nice": false, "zero": false, "padding": 0}, "title": null}
          }
        },
        {
          "data": {"name": "dif"},
          "mark": {"type": "line", "color": "#dcdcf0", "strokeWidth": 1.2, "interpolate": "monotone"},
          "encoding": {
            "x": {"field": "i", "type": "quantitative", "scale": {"domain": [-0.5, 111.5], "nice": false, "zero": false, "padding": 0}, "title": null},
            "y": {"field": "v", "type": "quantitative", "scale": {"domain": [-1.65, 2.7], "nice": false, "zero": false, "padding": 0}, "title": null}
          }
        },
        {
          "data": {"name": "macdArrows"},
          "mark": {"type": "rule", "color": "#e08ae8", "strokeWidth": 2, "strokeCap": "round"},
          "encoding": {
            "x": {"field": "x1", "type": "quantitative", "scale": {"domain": [-0.5, 111.5], "nice": false, "zero": false, "padding": 0}, "title": null},
            "y": {"field": "y1", "type": "quantitative", "scale": {"domain": [-1.65, 2.7], "nice": false, "zero": false, "padding": 0}, "title": null},
            "x2": {"field": "x2"},
            "y2": {"field": "y2"}
          }
        },
        {
          "data": {"name": "macdArrows"},
          "mark": {"type": "point", "shape": "M-1,1.3L0,0L1,1.3", "filled": false, "stroke": "#e08ae8", "strokeWidth": 2, "size": 90, "angle": 64, "opacity": 1},
          "encoding": {
            "x": {"field": "x2", "type": "quantitative", "scale": {"domain": [-0.5, 111.5], "nice": false, "zero": false, "padding": 0}, "title": null},
            "y": {"field": "y2", "type": "quantitative", "scale": {"domain": [-1.65, 2.7], "nice": false, "zero": false, "padding": 0}, "title": null}
          }
        },
        {
          "data": {"values": [{"i": 75.96, "p": -1.33, "t": "DIF下穿零轴"}]},
          "mark": {"type": "text", "align": "left", "baseline": "middle", "font": "Noto Sans CJK SC", "fontWeight": "bold", "fontSize": 12.5, "color": "#ff40c0"},
          "encoding": {
            "x": {"field": "i", "type": "quantitative", "scale": {"domain": [-0.5, 111.5], "nice": false, "zero": false, "padding": 0}, "title": null},
            "y": {"field": "p", "type": "quantitative", "scale": {"domain": [-1.65, 2.7], "nice": false, "zero": false, "padding": 0}, "title": null},
            "text": {"field": "t"}
          }
        },
        {
          "data": {"values": [{"i": 113.3, "p": -2.0, "t": "周线"}]},
          "mark": {"type": "text", "align": "left", "baseline": "middle", "font": "Noto Sans CJK SC", "fontSize": 11, "color": "#f0f0f0"},
          "encoding": {
            "x": {"field": "i", "type": "quantitative", "scale": {"domain": [-0.5, 111.5], "nice": false, "zero": false, "padding": 0}, "title": null},
            "y": {"field": "p", "type": "quantitative", "scale": {"domain": [-1.65, 2.7], "nice": false, "zero": false, "padding": 0}, "title": null},
            "text": {"field": "t"}
          }
        },
        {
          "data": {"values": [
            {"i": -0.33, "t": "MACD(12,26,9) DIF:-1.46", "k": "g"},
            {"i": 19.95, "t": "↓", "k": "c"},
            {"i": 22.35, "t": "DEA:-1.26", "k": "y"},
            {"i": 30.43, "t": "↓", "k": "c"},
            {"i": 33.0, "t": "MACD:-0.40", "k": "p"},
            {"i": 42.97, "t": "↑", "k": "r"}
          ]},
          "mark": {"type": "text", "align": "left", "baseline": "middle", "font": "Liberation Sans", "fontSize": 10},
          "encoding": {
            "x": {"field": "i", "type": "quantitative", "scale": {"domain": [-0.5, 111.5], "nice": false, "zero": false, "padding": 0}, "title": null},
            "y": {"datum": 2.35, "type": "quantitative", "scale": {"domain": [-1.65, 2.7], "nice": false, "zero": false, "padding": 0}, "title": null},
            "text": {"field": "t"},
            "color": {"field": "k", "type": "nominal", "legend": null,
                      "scale": {"domain": ["g", "w", "y", "p", "c", "r"], "range": ["#cfcfcf", "#f2f2f2", "#e6dc5a", "#c23cc8", "#3cd8e0", "#e03c3c"]}}
          }
        }
      ]
    }
  ]
}
